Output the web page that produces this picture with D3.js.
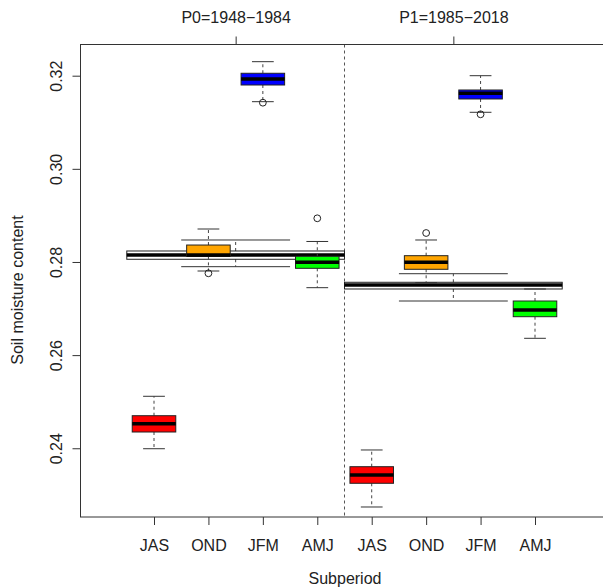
<!DOCTYPE html>
<html>
<head>
<meta charset="utf-8">
<script src="https://cdn.jsdelivr.net/npm/d3@7"></script>
<style>
  body { margin: 0; background: #fff; }
  text { font-family: "Liberation Sans", Arial, sans-serif; fill: #222; }
</style>
</head>
<body>
<svg id="chart" width="603" height="588"></svg>
<script>
// categories
const seasons = ["JAS", "OND", "JFM", "AMJ"];
const periods = ["P0=1948\u22121984", "P1=1985\u22122018"];
const yTicks = [0.24, 0.26, 0.28, 0.30, 0.32];
const seasonColors = ["#ff0000", "#ffa500", "#0000ff", "#00ff00"];

// seasonal box stats, P0 (JAS, OND, JFM, AMJ)
const p0Low  = [0.2399, 0.27806, 0.31442, 0.27448];
const p0Q1   = [0.24349, 0.2812, 0.318, 0.27864];
const p0Med  = [0.24527, 0.2815, 0.31929, 0.27993];
const p0Q3   = [0.24699, 0.28364, 0.32052, 0.28122];
const p0High = [0.25116, 0.28708, 0.32301, 0.2844];
const p0Out  = [[], [0.27757], [0.3142], [0.28938]];

// seasonal box stats, P1
const p1Low  = [0.22739, 0.27555, 0.31214, 0.26361];
const p1Q1   = [0.23248, 0.27843, 0.315, 0.26825];
const p1Med  = [0.23426, 0.27993, 0.31622, 0.26969];
const p1Q3   = [0.23604, 0.28135, 0.31693, 0.27162];
const p1High = [0.23963, 0.28472, 0.32, 0.2742];
const p1Out  = [[], [0.28622], [0.31171], []];

// whole-period boxes (P0, P1)
const allLow  = [0.27899, 0.27162];
const allQ1   = [0.28058, 0.2742];
const allMed  = [0.2815, 0.27506];
const allQ3   = [0.28236, 0.27564];
const allHigh = [0.28472, 0.27748];

const svg = d3.select("#chart");
const plotLeft = 80, plotTop = 44.5, plotBottom = 517, plotRight = 610;

const x = d3.scaleLinear().domain([1, 8]).range([154, 535]);
const y = d3.scaleLinear().domain([0.22524, 0.32659]).range([plotBottom, 45]);
const unit = x(2) - x(1);

// divider between the two subperiods
svg.append("line")
  .attr("x1", x(4.5)).attr("x2", x(4.5))
  .attr("y1", plotTop).attr("y2", plotBottom)
  .attr("stroke", "#555").attr("stroke-dasharray", "3,3");

function drawBox(cx, half, low, q1, med, q3, high, outs, fill, medWidth) {
  const g = svg.append("g");
  // whiskers
  g.append("line").attr("x1", cx).attr("x2", cx).attr("y1", y(q3)).attr("y2", y(high))
    .attr("stroke", "#444").attr("stroke-dasharray", "3,3");
  g.append("line").attr("x1", cx).attr("x2", cx).attr("y1", y(q1)).attr("y2", y(low))
    .attr("stroke", "#444").attr("stroke-dasharray", "3,3");
  // staples
  [low, high].forEach(function (v) {
    g.append("line").attr("x1", cx - half / 2).attr("x2", cx + half / 2)
      .attr("y1", y(v)).attr("y2", y(v)).attr("stroke", "#333");
  });
  g.append("rect")
    .attr("x", cx - half).attr("width", half * 2)
    .attr("y", y(q3)).attr("height", y(q1) - y(q3))
    .attr("fill", fill).attr("stroke", "#222");
  g.append("line").attr("x1", cx - half).attr("x2", cx + half)
    .attr("y1", y(med)).attr("y2", y(med))
    .attr("stroke", "#000").attr("stroke-width", medWidth);
  outs.forEach(function (v) {
    g.append("circle").attr("cx", cx).attr("cy", y(v)).attr("r", 3.4)
      .attr("fill", "none").attr("stroke", "#222");
  });
}

// whole-period boxes first, 4 positions wide, no fill
[2.5, 6.5].forEach(function (p, i) {
  drawBox(x(p), unit * 2, allLow[i], allQ1[i], allMed[i], allQ3[i], allHigh[i], [], "none", 3.4);
});

// seasonal boxes
seasons.forEach(function (s, i) {
  drawBox(x(i + 1), unit * 0.4, p0Low[i], p0Q1[i], p0Med[i], p0Q3[i], p0High[i], p0Out[i], seasonColors[i], 3.5);
  drawBox(x(i + 5), unit * 0.4, p1Low[i], p1Q1[i], p1Med[i], p1Q3[i], p1High[i], p1Out[i], seasonColors[i], 3.5);
});

// frame
svg.append("rect")
  .attr("x", plotLeft + 0.5).attr("y", plotTop)
  .attr("width", plotRight - plotLeft).attr("height", plotBottom - plotTop)
  .attr("fill", "none").attr("stroke", "#333");

// left axis
const yAxis = svg.append("g").attr("transform", "translate(" + (plotLeft + 0.5) + ",0)")
  .call(d3.axisLeft(y).tickValues(yTicks).tickSize(8).tickFormat(d3.format(".2f")));
yAxis.select(".domain").remove();
yAxis.selectAll("line").attr("stroke", "#333");
yAxis.selectAll("text")
  .attr("transform", "rotate(-90)")
  .attr("x", 0).attr("y", -19).attr("dy", 0)
  .attr("text-anchor", "middle")
  .style("font-size", "16px").style("font-family", "Liberation Sans, Arial, sans-serif");

// bottom axis
const xAxis = svg.append("g").attr("transform", "translate(0," + plotBottom + ")")
  .call(d3.axisBottom(x).tickValues([1, 2, 3, 4, 5, 6, 7, 8]).tickSize(8)
    .tickFormat(function (d) { return seasons[(d - 1) % 4]; }));
xAxis.select(".domain").remove();
xAxis.selectAll("line").attr("stroke", "#333");
xAxis.selectAll("text").attr("y", 23)
  .style("font-size", "16px").style("font-family", "Liberation Sans, Arial, sans-serif");

// top axis with the subperiod names
const topAxis = svg.append("g").attr("transform", "translate(0," + plotTop + ")")
  .call(d3.axisTop(x).tickValues([2.5, 6.5]).tickSize(8)
    .tickFormat(function (d, i) { return periods[i]; }));
topAxis.select(".domain").remove();
topAxis.selectAll("line").attr("stroke", "#333");
topAxis.selectAll("text").attr("y", -21.5)
  .style("font-size", "16px").style("font-family", "Liberation Sans, Arial, sans-serif");

// axis titles
svg.append("text").attr("x", 345).attr("y", 583.5)
  .attr("text-anchor", "middle").style("font-size", "16px").text("Subperiod");
svg.append("text").attr("transform", "translate(23,290) rotate(-90)")
  .attr("text-anchor", "middle").style("font-size", "16px").text("Soil moisture content");
</script>
</body>
</html>
